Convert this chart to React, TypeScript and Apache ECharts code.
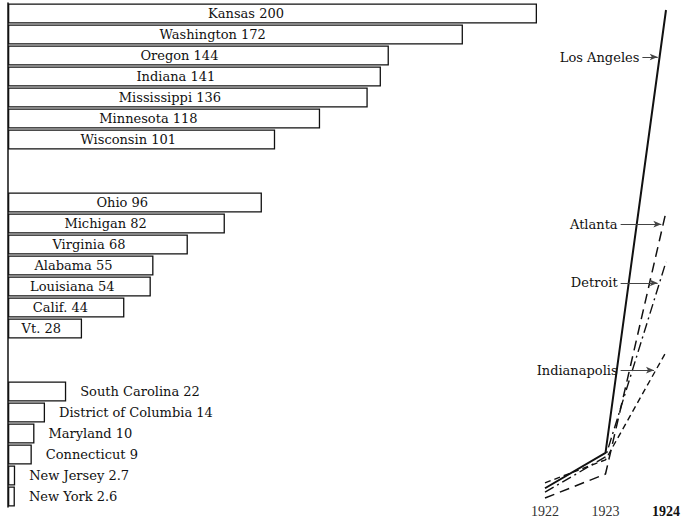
import React, { useEffect, useRef } from "react";
import * as echarts from "echarts";

// Group 1
const group1Names = ["Kansas", "Washington", "Oregon", "Indiana", "Mississippi", "Minnesota", "Wisconsin"];
const group1Values = [200, 172, 144, 141, 136, 118, 101];
// Group 2
const group2Names = ["Ohio", "Michigan", "Virginia", "Alabama", "Louisiana", "Calif.", "Vt."];
const group2Values = [96, 82, 68, 55, 54, 44, 28];
// Group 3
const group3Names = ["South Carolina", "District of Columbia", "Maryland", "Connecticut", "New Jersey", "New York"];
const group3Values = [22, 14, 10, 9, 2.7, 2.6];

// Cities line chart
const years = [1922, 1923, 1924];
const cityNames = ["Los Angeles", "Atlanta", "Detroit", "Indianapolis"];
const losAngeles = [2.4, 9.6, 100];
const atlanta = [0.4, 5.3, 58.8];
const detroit = [1.6, 8.8, 48.6];
const indianapolis = [3.5, 8.2, 30.2];
// annotation arrows: level on value axis and start on year axis
const annotationLevels = [90.4, 56.3, 44.3, 26.5];
const annotationStarts = [1923.61, 1923.25, 1923.25, 1923.25];

const FONT = "DejaVu Serif";
const INK = "#111";

export default function App() {
  const ref = useRef<HTMLDivElement>(null);
  useEffect(() => {
    if (!ref.current) return;
    const chart = echarts.init(ref.current, undefined, { renderer: "svg" });

    const gapRows = 2;
    const rows: any[] = [];
    const addGroup = (names: string[], vals: number[]) => {
      names.forEach((n, i) => rows.push({ name: n, value: vals[i] }));
    };
    const addGap = () => {
      for (let i = 0; i < gapRows; i++) rows.push(null);
    };
    addGroup(group1Names, group1Values);
    addGap();
    addGroup(group2Names, group2Values);
    addGap();
    addGroup(group3Names, group3Values);

    const catData = rows.map((_, i) => String(i));
    const barData = rows.map((r) => {
      if (!r) return "-";
      const inside = r.value >= 25;
      return {
        name: r.name,
        value: r.value,
        label: inside
          ? { position: ["45%", "50%"], align: "center", verticalAlign: "middle" }
          : { position: "right", distance: 14 },
      };
    });

    const citySeries = [losAngeles, atlanta, detroit, indianapolis];
    const lineTypes: any[] = ["solid", [10, 6], [10, 4, 2, 4], [6, 4]];
    const lineWidths = [2, 1.5, 1.4, 1.4];

    const lineSeries = citySeries.map((vals, k) => {
      const lvl = annotationLevels[k];
      const t = (lvl - vals[1]) / (vals[2] - vals[1]);
      const tip = years[1] + t * (years[2] - years[1]);
      return {
        type: "line",
        name: cityNames[k],
        xAxisIndex: 1,
        yAxisIndex: 1,
        data: vals.map((v, i) => [years[i], v]),
        symbol: "none",
        lineStyle: { color: INK, width: lineWidths[k], type: lineTypes[k] },
        markLine: {
          silent: true,
          symbol: ["none", "arrow"],
          symbolSize: [5, 8],
          lineStyle: { color: "#444", width: 1, type: "solid" },
          label: {
            show: true,
            position: "start",
            distance: 3,
            formatter: cityNames[k],
            fontFamily: FONT,
            fontSize: 13,
            color: INK,
          },
          data: [[{ coord: [annotationStarts[k], lvl] }, { coord: [tip - 0.03, lvl] }]],
        },
      };
    });

    chart.setOption({
      animation: false,
      grid: [
        { left: 8, top: 3, width: 529, bottom: 15 },
        { left: 545, width: 121, top: 10, bottom: 22 },
      ],
      xAxis: [
        { gridIndex: 0, type: "value", min: 0, max: 200, show: false },
        {
          gridIndex: 1,
          type: "value",
          min: 1922,
          max: 1924,
          interval: 1,
          axisLine: { show: false },
          axisTick: { show: false },
          splitLine: { show: false },
          axisLabel: {
            margin: 4,
            fontFamily: "Liberation Serif",
            fontSize: 14,
            color: "#333",
            formatter: (v: number) => (v === 1924 ? `{b|${v}}` : `${v}`),
            rich: { b: { fontFamily: "Liberation Serif", fontSize: 14, fontWeight: "bold", color: "#111" } },
          },
        },
      ],
      yAxis: [
        {
          gridIndex: 0,
          type: "category",
          inverse: true,
          data: catData,
          axisLine: { show: true, lineStyle: { color: INK, width: 1.5 } },
          axisTick: { show: false },
          axisLabel: { show: false },
        },
        { gridIndex: 1, type: "value", min: 0, max: 100, show: false },
      ],
      series: [
        {
          type: "bar",
          xAxisIndex: 0,
          yAxisIndex: 0,
          data: barData,
          barCategoryGap: "4%",
          itemStyle: { color: "#fff", borderColor: INK, borderWidth: 1.3 },
          label: {
            show: true,
            formatter: (p: any) => `${p.name} ${p.value}`,
            fontFamily: FONT,
            fontSize: 13,
            color: INK,
          },
        },
        ...lineSeries,
      ],
    });
    return () => chart.dispose();
  }, []);
  return (
    <div
      ref={ref}
      style={{ position: "fixed", left: 0, top: 0, width: 685, height: 522, background: "#fff" }}
    />
  );
}
